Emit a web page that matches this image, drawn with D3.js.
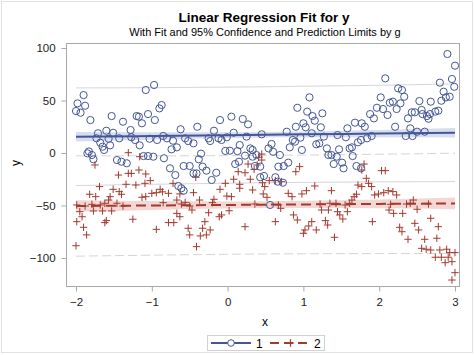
<!DOCTYPE html>
<html><head><meta charset="utf-8">
<script src="https://cdn.jsdelivr.net/npm/d3@7"></script>
<style>body{margin:0;background:#fff}svg{display:block;font-family:"Liberation Sans",Arial,sans-serif}</style>
</head><body>
<script>
const title = "Linear Regression Fit for y";
const subtitle = "With Fit and 95% Confidence and Prediction Limits by g";
const xTicks = [-2,-1,0,1,2,3];
const yTicks = [-100,-50,0,50,100];
const groups = ["1","2"];

const g1 = [[-2.00,40],[-1.98,47.3],[-1.94,38.4],[-1.90,55.2],[-1.88,45],[-1.85,-0.3],[-1.83,1.5],[-1.81,31.4],[-1.79,-1.9],[-1.77,-6],[-1.73,14],[-1.71,18.8],[-1.68,9.8],[-1.65,6],[-1.63,2.9],[-1.60,21.2],[-1.57,13.6],[-1.55,7.3],[-1.53,35.2],[-1.51,19.3],[-1.46,-6.7],[-1.43,14],[-1.40,-8.3],[-1.38,29.8],[-1.33,-9.8],[-1.28,21.9],[-1.27,15],[-1.22,12.4],[-1.20,35.2],[-1.17,34.6],[-1.16,7.3],[-1.13,28.3],[-1.11,-2.9],[-1.08,60],[-1.05,37.1],[-1.05,-2.9],[-1.03,13.6],[-0.98,-3.5],[-0.97,64.8],[-0.96,31.4],[-0.93,12.4],[-0.90,42.5],[-0.87,45.7],[-0.85,16.2],[-0.84,-5],[-0.80,14],[-0.76,-14.6],[-0.74,3.5],[-0.72,11.7],[-0.69,-21],[-0.67,5.4],[-0.65,-31.4],[-0.62,22.6],[-0.61,-33.6],[-0.58,-12.4],[-0.58,-35.9],[-0.56,14],[-0.52,11.4],[-0.50,-12.4],[-0.45,9.2],[-0.45,-19.4],[-0.41,-19.4],[-0.40,25],[-0.38,-6],[-0.35,-0.6],[-0.33,-13],[-0.28,-16.8],[-0.25,14],[-0.23,11.4],[-0.21,-25.7],[-0.18,21.2],[-0.15,-18.8],[-0.12,14],[-0.10,31.4],[-0.08,12.4],[-0.03,2],[-0.01,15],[0.03,2.2],[0.05,34.6],[0.08,19.3],[0.10,-10.5],[0.13,1.8],[0.15,-8.3],[0.16,7.6],[0.20,32.4],[0.23,-2.5],[0.25,15.6],[0.27,27.3],[0.30,4.4],[0.33,2.9],[0.33,-3.5],[0.36,-12.4],[0.38,-1.9],[0.43,-13],[0.43,-23.1],[0.45,17.8],[0.48,-21.9],[0.54,4.4],[0.56,-49.5],[0.58,8.6],[0.60,1.2],[0.63,-23.1],[0.66,-27.3],[0.67,-13],[0.69,-1.9],[0.73,-28.3],[0.74,-12.4],[0.78,20.3],[0.80,-9.2],[0.82,5.4],[0.86,12.4],[0.89,10.8],[0.90,25],[0.92,43.1],[0.96,14.6],[0.98,2.9],[1.00,28.3],[1.03,24.5],[1.05,39.4],[1.08,53],[1.11,18.8],[1.12,35.2],[1.15,30.8],[1.17,8.3],[1.21,9.2],[1.23,24.5],[1.25,37.8],[1.27,15.6],[1.31,4.4],[1.33,-1.9],[1.37,-1.9],[1.40,-10.5],[1.44,-3.5],[1.45,17.1],[1.47,3.5],[1.51,-9.2],[1.53,-14.6],[1.56,15],[1.58,23.5],[1.61,4.4],[1.64,5.4],[1.65,-2.9],[1.68,28.9],[1.70,-12.4],[1.72,10.2],[1.76,12.4],[1.76,-14.6],[1.77,28.3],[1.81,25],[1.84,14],[1.88,37.1],[1.90,16.2],[1.93,33],[1.97,43.1],[2.02,53],[2.05,41.9],[2.08,71.1],[2.11,36.2],[2.14,47.9],[2.18,48.9],[2.21,25],[2.23,41.9],[2.25,61.6],[2.28,47.3],[2.30,60],[2.33,53.6],[2.35,16.2],[2.38,33],[2.41,23.5],[2.43,38.8],[2.44,16.2],[2.47,38.8],[2.50,20.3],[2.53,49.5],[2.56,41],[2.57,37.1],[2.60,20.3],[2.63,35.2],[2.65,32.7],[2.67,37.1],[2.68,48.9],[2.74,39.4],[2.78,40.3],[2.80,67],[2.82,49.8],[2.85,58.4],[2.88,53],[2.90,94.3],[2.93,53.6],[2.96,70.5],[2.99,63.1],[3.00,83.2]];

const g2 = [[-2.00,-88.3],[-1.99,-49.5],[-1.99,-65.4],[-1.95,-55.9],[-1.92,-60.7],[-1.90,-70.8],[-1.88,-50.5],[-1.86,-78],[-1.82,-39.3],[-1.79,-48.9],[-1.77,-55.2],[-1.75,-11.4],[-1.74,-41.6],[-1.69,-32],[-1.68,-49.5],[-1.65,-55.2],[-1.62,-47.9],[-1.62,-66.3],[-1.60,-64.4],[-1.57,-44.8],[-1.55,-41.6],[-1.53,-55.2],[-1.51,-34.6],[-1.46,-47.9],[-1.44,-21],[-1.43,-36.8],[-1.40,-39.3],[-1.38,-50.5],[-1.34,-29.8],[-1.31,-19.4],[-1.31,0.3],[-1.27,-19.4],[-1.25,-63.1],[-1.21,-30.5],[-1.17,-16.2],[-1.16,-3.5],[-1.13,-42.2],[-1.09,-28.9],[-1.08,-20],[-1.08,-41.6],[-1.02,-26.3],[-1.00,-38.4],[-0.94,-37.8],[-0.94,-72.7],[-0.89,-34.6],[-0.86,-37],[-0.85,-47.3],[-0.78,-38.4],[-0.78,-66.3],[-0.72,-28.9],[-0.71,-66.3],[-0.67,-44.8],[-0.67,-57.5],[-0.63,-39],[-0.63,-60.7],[-0.61,-48.6],[-0.56,-47],[-0.52,-71.7],[-0.50,-50.5],[-0.50,-78],[-0.47,-54.3],[-0.45,-37.8],[-0.42,-23.1],[-0.41,-89.2],[-0.37,-44.8],[-0.36,-79],[-0.33,-71.7],[-0.30,-65.4],[-0.28,-78],[-0.25,-56.9],[-0.23,-73.3],[-0.20,-47.3],[-0.18,-44.1],[-0.11,-60.7],[-0.10,-34.6],[-0.08,-59],[-0.03,-28.9],[-0.01,-41],[0.02,-55],[0.05,-41.6],[0.08,-25],[0.14,-17.8],[0.16,-29.8],[0.16,-33.6],[0.23,-18.8],[0.23,-70.2],[0.27,-10.5],[0.30,-25],[0.33,-35.2],[0.35,-15.6],[0.36,-48.6],[0.39,-11.4],[0.41,-4.1],[0.45,-6.7],[0.45,-1],[0.46,-28.3],[0.47,-39],[0.49,-32],[0.52,-42.2],[0.55,-26.3],[0.63,-26.3],[0.63,-65.4],[0.67,-49.5],[0.70,-52.7],[0.71,-27.3],[0.80,-38.4],[0.85,-41.6],[0.87,-59],[0.90,-17.8],[0.92,-63.8],[0.95,-13],[0.98,-39],[1.00,-76.5],[1.02,-73.3],[1.04,-35.9],[1.07,-69.5],[1.11,-65.4],[1.15,-31.4],[1.17,-73.3],[1.22,-48.6],[1.24,-54.3],[1.29,-64.4],[1.32,-68.6],[1.33,-54.3],[1.35,-47.9],[1.37,-35.9],[1.41,-80.3],[1.43,-47.9],[1.45,-55.9],[1.48,-59],[1.52,-62.9],[1.55,-49.5],[1.58,-55.9],[1.61,-47.9],[1.64,-44.8],[1.67,-41.6],[1.70,-39.3],[1.72,-30.5],[1.77,-32],[1.77,-16.2],[1.80,-10.5],[1.83,-24.1],[1.86,-28.9],[1.90,-32],[1.91,-65.4],[1.94,-40],[1.99,-39],[2.03,-16.8],[2.06,-37.8],[2.08,-16.8],[2.12,-35.9],[2.13,-54.3],[2.15,-48.9],[2.18,-36.8],[2.19,-57.5],[2.23,-40],[2.27,-70.8],[2.30,-75],[2.31,-57.5],[2.36,-48.6],[2.38,-82.2],[2.41,-47.9],[2.45,-44.8],[2.47,-67],[2.50,-53.6],[2.52,-73.3],[2.56,-90.8],[2.60,-82.2],[2.62,-91.7],[2.65,-48.6],[2.68,-62.2],[2.68,-92.4],[2.74,-99.3],[2.76,-81.2],[2.78,-70.2],[2.80,-92.4],[2.82,-99.3],[2.87,-104.5],[2.89,-91.7],[2.91,-99.3],[2.93,-94.9],[2.96,-103.5],[2.96,-121],[3.00,-94.9],[3.00,-114]];

// fit lines with confidence (clm) and prediction (plm) half-widths
const fitX   = [-2, -1, 0, 0.5, 1, 2, 3];
const fit1   = [15.5, 16.2, 17.0, 17.4, 17.8, 18.5, 19.3];
const fit2   = [-50.5, -50.0, -49.5, -49.2, -49.0, -48.5, -48.0];
const clm1   = [4.5, 3.5, 2.8, 2.7, 2.8, 3.5, 4.5];
const clm2   = [5.5, 4.2, 3.4, 3.3, 3.4, 4.2, 5.5];
const plm1   = [46.5, 46.0, 45.8, 45.7, 45.8, 46.0, 46.5];
const plm2   = [47.8, 47.3, 47.0, 47.0, 47.0, 47.3, 47.8];

const W = 474, H = 355;
const C1 = "#445694", C2 = "#A23A2E";
const svg = d3.select("body").append("svg").attr("width", W).attr("height", H);

svg.append("rect").attr("x",1.5).attr("y",1.5).attr("width",W-3).attr("height",H-4)
  .attr("fill","#fff").attr("stroke","#e2e2e2");

const L = 66, R = 460, T = 43, B = 286;
const x = d3.scaleLinear().domain([-2.132, 3.066]).range([L, R]);
const y = d3.scaleLinear().domain([-126.7, 104.8]).range([B, T]);

svg.append("text").attr("x", 264).attr("y", 22).attr("text-anchor","middle")
  .attr("font-size", 13.5).attr("font-weight","bold").attr("fill","#000").text(title);
svg.append("text").attr("x", 265).attr("y", 35.5).attr("text-anchor","middle")
  .attr("font-size", 11).attr("fill","#000").text(subtitle);

const plot = svg.append("g");
svg.append("clipPath").attr("id","clp").append("rect")
  .attr("x",L).attr("y",T).attr("width",R-L).attr("height",B-T);
plot.attr("clip-path","url(#clp)");

const rows = fitX.map((v,i)=>({x:v,f1:fit1[i],f2:fit2[i],c1:clm1[i],c2:clm2[i],p1:plm1[i],p2:plm2[i]}));
const curve = d3.curveMonotoneX;

// confidence bands
plot.append("path").datum(rows).attr("fill","#c9d1ea").attr("opacity",0.75)
  .attr("d", d3.area().curve(curve).x(d=>x(d.x)).y0(d=>y(d.f1-d.c1)).y1(d=>y(d.f1+d.c1)));
plot.append("path").datum(rows).attr("fill","#efc9c5").attr("opacity",0.75)
  .attr("d", d3.area().curve(curve).x(d=>x(d.x)).y0(d=>y(d.f2-d.c2)).y1(d=>y(d.f2+d.c2)));

// prediction limits
const pl = (acc) => d3.line().curve(curve).x(d=>x(d.x)).y(d=>y(acc(d)));
[d=>d.f1+d.p1, d=>d.f1-d.p1].forEach(a=>{
  plot.append("path").datum(rows).attr("fill","none").attr("stroke","#d6d6dc").attr("stroke-width",1).attr("d", pl(a));
});
[d=>d.f2+d.p2, d=>d.f2-d.p2].forEach(a=>{
  plot.append("path").datum(rows).attr("fill","none").attr("stroke","#d8d4d4").attr("stroke-width",1)
    .attr("stroke-dasharray","9,4").attr("d", pl(a));
});

// points group 2 (plus)
const ps = 3.7;
plot.append("g").selectAll("path").data(g2).join("path")
  .attr("d", d=>`M${x(d[0])-ps},${y(d[1])}h${2*ps}M${x(d[0])},${y(d[1])-ps}v${2*ps}`)
  .attr("stroke", C2).attr("stroke-width",1).attr("fill","none");
// points group 1 (circle)
plot.append("g").selectAll("circle").data(g1).join("circle")
  .attr("cx", d=>x(d[0])).attr("cy", d=>y(d[1])).attr("r",3.6)
  .attr("fill","none").attr("stroke", C1).attr("stroke-width",1);

// fit lines
plot.append("path").datum(rows).attr("fill","none").attr("stroke",C1).attr("stroke-width",2)
  .attr("d", pl(d=>d.f1));
plot.append("path").datum(rows).attr("fill","none").attr("stroke",C2).attr("stroke-width",2)
  .attr("stroke-dasharray","10,5").attr("d", pl(d=>d.f2));

// frame
svg.append("rect").attr("x",L+0.5).attr("y",T+0.5).attr("width",R-L-1).attr("height",B-T)
  .attr("fill","none").attr("stroke","#a8a8a8");

// axes
const xa = svg.append("g").attr("transform",`translate(0,${B+0.5})`)
  .call(d3.axisBottom(x).tickValues(xTicks).tickSize(5).tickSizeOuter(0).tickFormat(d3.format("d")));
const ya = svg.append("g").attr("transform",`translate(${L+0.5},0)`)
  .call(d3.axisLeft(y).tickValues(yTicks).tickSize(5).tickSizeOuter(0).tickFormat(d3.format("d")));
[xa,ya].forEach(a=>{
  a.select(".domain").remove();
  a.selectAll(".tick line").attr("stroke","#a8a8a8");
  a.selectAll(".tick text").attr("fill","#222").attr("font-size",11.5).attr("font-family","Liberation Sans, Arial, sans-serif");
});
xa.selectAll(".tick text").attr("dy","1.0em");
ya.selectAll(".tick text").attr("dx","-0.25em");

svg.append("text").attr("x", 265).attr("y", 326).attr("text-anchor","middle")
  .attr("font-size",12).attr("fill","#000").text("x");
svg.append("text").attr("transform","translate(20,163) rotate(-90)").attr("text-anchor","middle")
  .attr("font-size",12).attr("fill","#000").text("y");

// legend
const lg = svg.append("g");
lg.append("rect").attr("x",207.5).attr("y",335.5).attr("width",117).attr("height",15)
  .attr("fill","#fff").attr("stroke","#d0d0d0");
const ly = 343;
lg.append("line").attr("x1",211).attr("x2",251).attr("y1",ly).attr("y2",ly).attr("stroke",C1).attr("stroke-width",2);
lg.append("circle").attr("cx",231).attr("cy",ly).attr("r",3.3).attr("fill","#fff").attr("stroke",C1);
lg.append("text").attr("x",256).attr("y",ly+4.5).attr("font-size",12).attr("fill","#000").text(groups[0]);
lg.append("line").attr("x1",270).attr("x2",311).attr("y1",ly).attr("y2",ly).attr("stroke",C2).attr("stroke-width",2).attr("stroke-dasharray","9,5");
lg.append("path").attr("d",`M${290.5-ps},${ly}h${2*ps}M290.5,${ly-ps}v${2*ps}`).attr("stroke",C2).attr("stroke-width",1.2);
lg.append("text").attr("x",314).attr("y",ly+4.5).attr("font-size",12).attr("fill","#000").text(groups[1]);
</script>
</body></html>
